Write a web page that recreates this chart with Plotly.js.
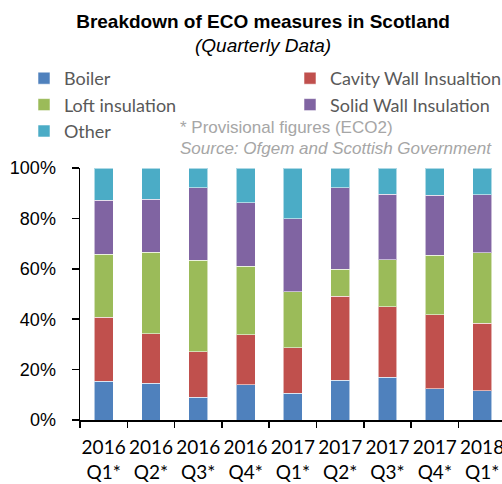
<!DOCTYPE html>
<html>
<head>
<meta charset="utf-8">
<script src="https://cdn.plot.ly/plotly-3.0.1.min.js"></script>
<style>
html, body { margin: 0; padding: 0; overflow: hidden; background: #fff; }
#chart { width: 502px; height: 484px; }
</style>
</head>
<body>
<div id="chart"></div>
<script>
// Categories (quarters)
const categories = [
  "2016<br>Q1*", "2016<br>Q2*", "2016<br>Q3*", "2016<br>Q4*",
  "2017<br>Q1*", "2017<br>Q2*", "2017<br>Q3*", "2017<br>Q4*",
  "2018<br>Q1*"
];
// Series values (% share of measures)
const boiler = [15.3, 14.5, 9.1, 13.9, 10.6, 15.8, 16.9, 12.4, 11.6];
const cavity = [25.5, 19.7, 17.9, 20.0, 18.0, 33.4, 28.0, 29.4, 26.8];
const loft   = [25.0, 32.4, 36.3, 27.2, 22.3, 10.7, 18.6, 23.5, 28.0];
const solid  = [21.5, 21.0, 28.9, 25.2, 28.9, 32.3, 26.1, 23.9, 22.9];
const other  = [12.7, 12.4, 7.8, 13.7, 20.2, 7.8, 10.4, 10.8, 10.7];
// Y tick values
const yTicks = [0, 20, 40, 60, 80, 100];

const names = ["Boiler", "Cavity Wall Insualtion", "Loft insulation", "Solid Wall Insulation", "Other"];
const colors = ["#4F81BD", "#C0504D", "#9BBB59", "#8064A2", "#4BACC6"];
const series = [boiler, cavity, loft, solid, other];
const legendOf = ["legend", "legend2", "legend", "legend2", "legend"];

const traces = series.map((vals, i) => ({
  type: "bar",
  name: names[i],
  x: categories,
  y: vals,
  marker: { color: colors[i], line: { color: "rgba(255,255,255,0.55)", width: 1 } },
  legend: legendOf[i],
  hoverinfo: "name+y"
}));

const legendFont = { family: "Lato, 'Open Sans', sans-serif", size: 18, color: "#595959" };

const layout = {
  width: 502,
  height: 484,
  margin: { l: 80, r: 0, t: 168, b: 64, autoexpand: false },
  paper_bgcolor: "#ffffff",
  plot_bgcolor: "#ffffff",
  barmode: "stack",
  bargap: 0.6,
  title: {
    text: "<b>Breakdown of ECO measures in Scotland</b>",
    font: { family: "Arial, 'Liberation Sans', sans-serif", size: 19, color: "#000000" },
    x: 0.524, xref: "container", xanchor: "center",
    y: 1 - 21.5 / 484, yref: "container", yanchor: "middle"
  },
  xaxis: {
    type: "category",
    range: [-0.5, 8.42],
    tickson: "boundaries",
    tickangle: 0,
    ticks: "outside",
    ticklen: 6,
    tickwidth: 1.5,
    tickcolor: "#000000",
    showline: true,
    linecolor: "#000000",
    linewidth: 1.5,
    showgrid: false,
    zeroline: false,
    ticklabelstandoff: 10,
    tickfont: { family: "Lato, 'Open Sans', sans-serif", size: 19, color: "#000000" },
    fixedrange: true
  },
  yaxis: {
    range: [0, 100],
    tickvals: yTicks,
    ticktext: yTicks.map(v => v + "%"),
    ticks: "outside",
    ticklen: 7,
    tickwidth: 1.5,
    tickcolor: "#000000",
    showline: true,
    linecolor: "#000000",
    linewidth: 1.5,
    showgrid: false,
    zeroline: false,
    ticklabelstandoff: 12,
    tickfont: { family: "Arial, 'Liberation Sans', sans-serif", size: 18, color: "#000000" },
    fixedrange: true
  },
  showlegend: true,
  legend: {
    orientation: "v",
    x: (24 - 80) / 422, xanchor: "left",
    y: (420 - 60) / 252, yanchor: "top",
    font: legendFont,
    bgcolor: "rgba(0,0,0,0)",
    traceorder: "normal"
  },
  legend2: {
    orientation: "v",
    x: (290 - 80) / 422, xanchor: "left",
    y: (420 - 60) / 252, yanchor: "top",
    font: legendFont,
    bgcolor: "rgba(0,0,0,0)",
    traceorder: "normal"
  },
  annotations: [
    {
      text: "<i>(Quarterly Data)</i>",
      xref: "paper", yref: "paper",
      x: (263 - 80) / 422, y: (420 - 45.5) / 252,
      xanchor: "center", yanchor: "middle",
      showarrow: false,
      font: { family: "Arial, 'Liberation Sans', sans-serif", size: 19, color: "#000000" }
    },
    {
      text: "* Provisional figures (ECO2)",
      xref: "paper", yref: "paper",
      x: (178 - 80) / 422, y: (420 - 128) / 252,
      xanchor: "left", yanchor: "middle",
      showarrow: false,
      font: { family: "Arial, 'Liberation Sans', sans-serif", size: 17, color: "#A6A6A6" }
    },
    {
      text: "<i>Source: Ofgem and Scottish Government</i>",
      xref: "paper", yref: "paper",
      x: (178 - 80) / 422, y: (420 - 148) / 252,
      xanchor: "left", yanchor: "middle",
      showarrow: false,
      font: { family: "Arial, 'Liberation Sans', sans-serif", size: 17, color: "#A6A6A6" }
    }
  ]
};

Plotly.newPlot("chart", traces, layout, { displayModeBar: false, staticPlot: true });
</script>
</body>
</html>
